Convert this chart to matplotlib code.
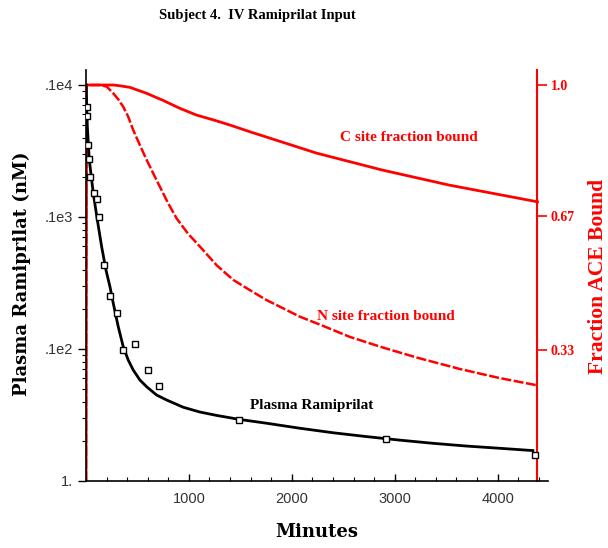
import matplotlib
matplotlib.use("Agg")
import matplotlib.pyplot as plt
from matplotlib.ticker import FixedLocator, MultipleLocator, NullFormatter, LogLocator

# observed plasma ramiprilat (squares)
obs_t = [13, 13, 22, 32, 39, 78, 104, 123, 175, 233, 298, 362, 476, 599, 709, 1488, 2919, 4359]
obs_c = [685, 582, 351, 275, 201, 152, 137, 100, 43, 25, 18.7, 9.8, 10.9, 6.9, 5.2, 2.9, 2.07, 1.57]

# fitted plasma curve
fit_t = [0, 13, 32, 71, 110, 152, 194, 233, 265, 313, 362, 410, 459, 524, 589, 686, 783, 945,
         1107, 1269, 1488, 1754, 2078, 2401, 2725, 3049, 3372, 3696, 4019, 4343]
fit_c = [1000, 483, 270, 151, 95, 59.6, 39.7, 29.6, 22.2, 14.8, 10.4, 8.26, 6.93, 5.82, 5.18,
         4.48, 4.11, 3.62, 3.33, 3.14, 2.93, 2.74, 2.51, 2.32, 2.17, 2.04, 1.93, 1.84, 1.77, 1.70]

# fraction of ACE bound
c_t = [0, 5, 10, 136, 265, 330, 427, 589, 750, 913, 1075, 1236, 1398, 1592, 1689, 2240, 2883,
       3534, 4388]
c_f = [0, 1.0, 1.0, 1.0, 1.0, 0.998, 0.994, 0.979, 0.961, 0.941, 0.924, 0.912, 0.899, 0.882,
       0.874, 0.828, 0.785, 0.747, 0.705]

n_t = [0, 5, 10, 50, 136, 201, 265, 313, 362, 410, 459, 524, 589, 653, 718, 799, 881, 990,
       1107, 1269, 1430, 1592, 1754, 1916, 2078, 2320, 2563, 2886, 3211, 3631, 4019, 4376]
n_f = [0, 1.0, 1.0, 1.0, 1.0, 0.996, 0.979, 0.964, 0.945, 0.92, 0.886, 0.848, 0.811, 0.777,
       0.743, 0.701, 0.663, 0.625, 0.592, 0.545, 0.508, 0.482, 0.457, 0.436, 0.415, 0.390,
       0.364, 0.337, 0.312, 0.283, 0.260, 0.242]

left_ticks = [1, 10, 100, 1000]
left_labels = ["1.", ".1e2", ".1e3", ".1e4"]
right_ticks = [0.33, 0.67, 1.0]
right_labels = ["0.33", "0.67", "1.0"]
x_ticks = [1000, 2000, 3000, 4000]

red = "#ff0000"
serif_b = {"family": "Liberation Serif", "weight": "bold"}

fig = plt.figure(figsize=(6.08, 5.48), dpi=100)
ax = fig.add_axes([86 / 608, 1 - 481 / 548, (548 - 86) / 608, (481 - 70) / 548])
ax2 = ax.twinx()

ax.set_yscale("log")
ax.set_xlim(0, 4490)
ax.set_ylim(1, 10 ** (3 * 411 / 396))
ax2.set_ylim(0, 411 / 396)

ax2.plot(c_t, c_f, color=red, lw=2.0, zorder=2, solid_joinstyle="round")
ax2.plot(n_t, n_f, color=red, lw=1.8, ls=(0, (4, 1)), zorder=2)
ax.plot(fit_t, fit_c, color="black", lw=2.0, zorder=3, solid_joinstyle="round")
ax.plot(obs_t, obs_c, ls="none", marker="s", ms=5, mfc="white", mec="black", mew=1.0, zorder=4)
ax.set_zorder(ax2.get_zorder() + 1)
ax.patch.set_visible(False)

# spines
for s in ["top", "right"]:
    ax.spines[s].set_visible(False)
for s in ["top", "left", "bottom"]:
    ax2.spines[s].set_visible(False)
ax2.spines["right"].set_position(("data", 4380))
ax2.spines["right"].set_color(red)
ax2.spines["right"].set_linewidth(1.5)
ax.spines["left"].set_linewidth(1.2)
ax.spines["bottom"].set_linewidth(1.2)

# left axis ticks
ax.yaxis.set_major_locator(FixedLocator(left_ticks))
ax.set_yticklabels(left_labels)
ax.yaxis.set_minor_locator(LogLocator(base=10, subs=range(2, 10)))
ax.yaxis.set_minor_formatter(NullFormatter())
ax.tick_params(axis="y", which="major", direction="out", length=6, width=1, labelsize=10.5,
               labelcolor="#333333")
ax.tick_params(axis="y", which="minor", direction="out", length=3, width=0.8)

# x ticks
ax.xaxis.set_major_locator(FixedLocator(x_ticks))
ax.xaxis.set_minor_locator(MultipleLocator(200))
ax.tick_params(axis="x", which="major", direction="in", length=5, width=1, labelsize=10.5,
               labelcolor="#333333", pad=8)
ax.tick_params(axis="x", which="minor", direction="in", length=3, width=0.8)
for lab in ax.get_xticklabels() + ax.get_yticklabels():
    lab.set_family("Liberation Sans")

# right axis ticks
ax2.yaxis.set_major_locator(FixedLocator(right_ticks))
ax2.set_yticklabels(right_labels)
ax2.tick_params(axis="y", direction="out", length=7, width=1.2, color=red, labelcolor=red,
                labelsize=10, pad=3)
for lab in ax2.get_yticklabels():
    lab.set_family("Liberation Serif")
    lab.set_weight("bold")

# labels
fig.text(257 / 608, 1 - 15 / 548, "Subject 4.  IV Ramiprilat Input", ha="center", va="center",
         fontsize=10.5, **serif_b)
fig.text(22 / 608, 1 - 274 / 548, "Plasma Ramiprilat (nM)", rotation=90, ha="center",
         va="center", fontsize=13, family="DejaVu Serif", weight="bold")
fig.text(317 / 608, 1 - 532 / 548, "Minutes", ha="center", va="center", fontsize=13,
         family="DejaVu Serif", weight="bold")
fig.text(598 / 608, 1 - 276 / 548, "Fraction ACE Bound", rotation=90, ha="center", va="center",
         fontsize=15.5, color=red, **serif_b)

ax2.text(3136, 0.867, "C site fraction bound", ha="center", va="center", fontsize=11,
         color=red, **serif_b)
ax2.text(2919, 0.415, "N site fraction bound", ha="center", va="center", fontsize=11,
         color=red, **serif_b)
ax.text(2190, 3.76, "Plasma Ramiprilat", ha="center", va="center", fontsize=11,
        color="black", **serif_b)

fig.savefig("out.png", dpi=100)
